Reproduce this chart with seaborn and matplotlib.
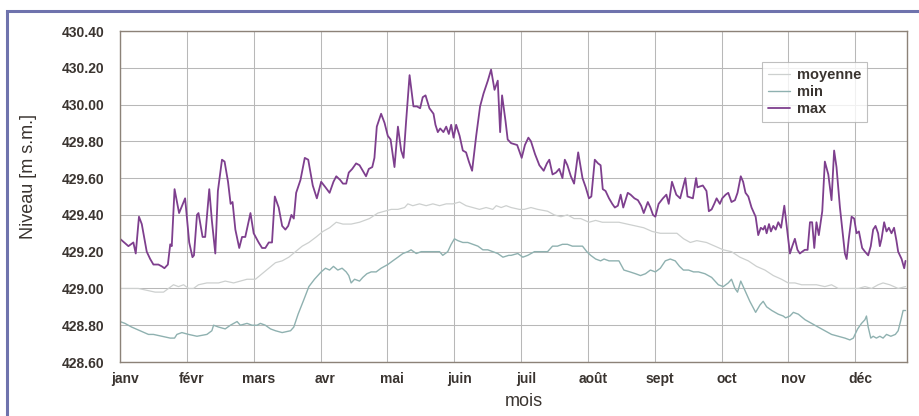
import matplotlib
matplotlib.use("Agg")
import matplotlib.pyplot as plt
import matplotlib.transforms as mtransforms
from matplotlib.lines import Line2D
import seaborn as sns

# day index within the year (0 = 1 janv) and level in m s.m.
max_days = [0, 3.9, 6.2, 7.3, 8.8, 10.1, 12.4, 14.0, 15.5, 17.8, 19.4, 20.6, 22.2, 23.3, 24.0, 25.3,
            27.4, 30.2, 32.1, 33.6, 34.3, 35.7, 36.4, 38.3, 39.5, 41.4, 42.6, 44.2, 45.4, 47.3, 48.5,
            50.1, 51.3, 52.2, 53.5, 55.3, 56.6, 58.1, 60.5, 62.0, 64.3, 65.9, 67.4, 69.0, 70.5, 71.8,
            73.6, 75.2, 76.7, 78.0, 79.5, 80.6, 81.7, 83.7, 85.7, 87.3, 89.4, 91.3, 93.3, 95.3, 97.2,
            99.0, 100.3, 102.1, 103.4, 104.9, 106.1, 107.7, 109.5, 111.1, 112.6, 114.1, 115.4, 117.0,
            118.0, 119.1, 121.1, 122.7, 124.2, 125.5, 127.3, 128.9, 130.4, 131.5, 132.7, 134.3, 136.1,
            137.7, 139.2, 140.4, 141.7, 143.5, 145.4, 146.3, 147.4, 148.5, 150.0, 151.3, 152.5, 153.6,
            154.7, 155.9, 157.5, 159.0, 160.5, 161.8, 163.3, 165.2, 167.0, 168.6, 170.6, 172.1, 173.7,
            175.2, 176.3, 177.2, 178.8, 179.8, 181.4, 184.2, 186.3, 187.8, 189.4, 190.6, 192.5, 194.5,
            196.5, 198.0, 199.1, 200.6, 202.2, 203.7, 205.2, 206.3, 207.5, 209.1, 210.6, 212.5, 214.5,
            216.0, 217.5, 218.6, 220.2, 221.7, 222.9, 223.9, 225.2, 226.8, 228.3, 229.5, 230.9, 232.2,
            233.4, 235.5, 236.8, 238.6, 240.2, 241.7, 242.9, 244.8, 246.0, 247.2, 248.3, 249.8, 251.8,
            253.4, 254.5, 256.0, 258.0, 259.8, 262.2, 263.2, 265.7, 267.2, 267.8, 270.3, 272.0, 273.1,
            274.4, 275.6, 276.7, 278.2, 279.3, 280.9, 282.1, 283.6, 285.2, 286.4, 287.9, 289.0, 290.1,
            291.4, 292.9, 294.8, 296.0, 297.2, 298.3, 299.1, 299.9, 301.0, 301.9, 303.0, 304.1, 305.3,
            306.6, 308.1, 309.2, 310.7, 311.8, 313.0, 314.2, 315.3, 316.4, 317.6, 318.9, 320.0, 321.0,
            322.0, 323.0, 324.1, 325.7, 326.9, 328.5, 330.0, 331.2, 332.3, 333.9, 335.1, 336.2, 337.0,
            338.0, 339.3, 340.5, 341.6, 342.7, 344.2, 345.5, 347.0, 348.2, 349.3, 350.4, 351.6, 352.4,
            353.2, 354.4, 355.5, 356.6, 357.8, 359.0, 360.1, 360.9, 362.5, 363.7, 364.3]
max_level = [429.27, 429.23, 429.25, 429.19, 429.39, 429.35, 429.20, 429.16, 429.13, 429.13, 429.12,
             429.11, 429.13, 429.24, 429.23, 429.54, 429.41, 429.49, 429.25, 429.17, 429.18, 429.40,
             429.41, 429.28, 429.28, 429.54, 429.37, 429.19, 429.53, 429.70, 429.69, 429.58, 429.46,
             429.47, 429.32, 429.22, 429.28, 429.28, 429.41, 429.30, 429.25, 429.22, 429.22, 429.25,
             429.25, 429.50, 429.44, 429.34, 429.32, 429.34, 429.40, 429.38, 429.52, 429.59, 429.71,
             429.70, 429.56, 429.49, 429.58, 429.55, 429.52, 429.58, 429.61, 429.59, 429.57, 429.57,
             429.63, 429.65, 429.68, 429.67, 429.64, 429.61, 429.65, 429.66, 429.71, 429.88, 429.95,
             429.90, 429.83, 429.81, 429.66, 429.88, 429.75, 429.71, 429.91, 430.16, 429.99, 429.99,
             429.98, 430.04, 430.05, 429.98, 429.95, 429.89, 429.85, 429.87, 429.85, 429.88, 429.84,
             429.89, 429.82, 429.89, 429.83, 429.75, 429.74, 429.69, 429.64, 429.83, 429.99, 430.06,
             430.13, 430.19, 430.08, 430.13, 429.85, 430.05, 429.91, 429.81, 429.79, 429.78, 429.71,
             429.78, 429.82, 429.80, 429.73, 429.67, 429.64, 429.68, 429.70, 429.62, 429.63, 429.65,
             429.60, 429.70, 429.67, 429.61, 429.57, 429.74, 429.60, 429.55, 429.49, 429.50, 429.70,
             429.68, 429.67, 429.54, 429.53, 429.49, 429.46, 429.44, 429.45, 429.51, 429.44, 429.52,
             429.51, 429.49, 429.48, 429.45, 429.41, 429.47, 429.44, 429.40, 429.39, 429.46, 429.49,
             429.51, 429.46, 429.58, 429.51, 429.49, 429.60, 429.50, 429.49, 429.60, 429.55, 429.56,
             429.53, 429.42, 429.43, 429.46, 429.49, 429.46, 429.49, 429.51, 429.52, 429.47, 429.48,
             429.52, 429.61, 429.58, 429.52, 429.50, 429.44, 429.39, 429.29, 429.33, 429.32, 429.34,
             429.30, 429.35, 429.31, 429.34, 429.32, 429.36, 429.33, 429.45, 429.34, 429.19, 429.23,
             429.27, 429.21, 429.19, 429.20, 429.21, 429.21, 429.36, 429.36, 429.22, 429.36, 429.29,
             429.42, 429.69, 429.62, 429.48, 429.75, 429.66, 429.44, 429.31, 429.19, 429.16, 429.27,
             429.39, 429.38, 429.30, 429.31, 429.22, 429.20, 429.18, 429.23, 429.32, 429.34, 429.30,
             429.23, 429.27, 429.36, 429.31, 429.33, 429.30, 429.33, 429.26, 429.20, 429.16, 429.11,
             429.15]

min_days = [0, 2.3, 5.4, 9.3, 13.2, 15.5, 19.4, 23.3, 25.3, 26.4, 28.7, 31.8, 35.7, 40.3, 42.6, 43.4,
            45.7, 48.8, 51.2, 54.3, 55.8, 58.9, 61.2, 63.6, 65.1, 67.4, 69.8, 72.1, 75.2, 79.1, 80.6,
            82.6, 85.3, 87.6, 90.2, 93.3, 95.3, 97.2, 99.0, 101.0, 103.0, 104.9, 106.1, 107.2, 108.8,
            111.1, 112.6, 114.5, 116.5, 118.8, 121.1, 124.2, 126.5, 128.9, 131.2, 133.5, 135.0, 137.4,
            139.7, 141.2, 143.5, 145.9, 148.2, 149.7, 152.0, 153.6, 155.1, 156.7, 159.0, 161.3, 163.6,
            166.0, 168.3, 170.6, 172.9, 175.2, 177.6, 180.3, 181.4, 184.5, 186.8, 189.1, 192.2, 195.2,
            198.3, 200.6, 202.9, 205.2, 207.5, 209.8, 212.2, 214.5, 216.5, 218.3, 220.6, 222.9, 224.5,
            226.8, 229.1, 231.4, 233.7, 236.5, 239.1, 241.4, 243.7, 246.0, 248.3, 250.6, 252.9, 255.2,
            257.5, 259.5, 261.3, 263.7, 266.0, 268.3, 271.3, 274.4, 277.5, 279.8, 282.1, 283.6, 285.2,
            286.4, 287.9, 289.8, 292.1, 294.8, 296.8, 298.3, 299.9, 302.3, 305.3, 307.6, 308.7, 310.7,
            312.3, 314.6, 317.7, 320.7, 323.8, 326.9, 330.0, 333.1, 336.2, 338.5, 340.1, 342.1, 343.9,
            345.5, 346.2, 347.0, 348.2, 349.3, 350.8, 352.4, 353.9, 355.5, 357.5, 359.6, 360.9, 362.2,
            363.2, 364.3]
min_level = [428.82, 428.81, 428.79, 428.77, 428.75, 428.75, 428.74, 428.73, 428.73, 428.75, 428.76,
             428.75, 428.74, 428.75, 428.77, 428.80, 428.79, 428.78, 428.80, 428.82, 428.80, 428.81,
             428.80, 428.80, 428.81, 428.80, 428.78, 428.77, 428.76, 428.77, 428.79, 428.86, 428.94,
             429.01, 429.05, 429.09, 429.11, 429.10, 429.12, 429.10, 429.11, 429.09, 429.07, 429.03,
             429.05, 429.04, 429.06, 429.08, 429.09, 429.09, 429.11, 429.13, 429.15, 429.17, 429.19,
             429.20, 429.21, 429.19, 429.20, 429.20, 429.20, 429.20, 429.20, 429.18, 429.20, 429.24,
             429.27, 429.26, 429.25, 429.25, 429.24, 429.23, 429.21, 429.21, 429.20, 429.19, 429.17,
             429.18, 429.18, 429.19, 429.17, 429.18, 429.20, 429.20, 429.20, 429.23, 429.23, 429.24,
             429.24, 429.23, 429.23, 429.23, 429.20, 429.18, 429.16, 429.15, 429.16, 429.15, 429.15,
             429.15, 429.10, 429.09, 429.08, 429.07, 429.08, 429.10, 429.09, 429.11, 429.15, 429.16,
             429.15, 429.12, 429.10, 429.10, 429.09, 429.09, 429.08, 429.06, 429.02, 429.01, 429.03,
             429.05, 429.00, 428.98, 429.04, 428.99, 428.93, 428.87, 428.91, 428.93, 428.90, 428.88,
             428.86, 428.85, 428.84, 428.85, 428.87, 428.86, 428.83, 428.81, 428.79, 428.77, 428.75,
             428.74, 428.73, 428.72, 428.73, 428.78, 428.81, 428.83, 428.85, 428.79, 428.73, 428.74,
             428.73, 428.74, 428.73, 428.75, 428.74, 428.75, 428.77, 428.83, 428.88, 428.88]

mean_days = [0, 3.9, 8.5, 12.4, 16.3, 20.2, 22.5, 24.8, 27.1, 29.5, 31.8, 34.1, 36.4, 40.3, 42.6, 45.7,
             48.8, 52.7, 55.8, 58.9, 62.8, 65.9, 69.0, 72.1, 75.2, 78.3, 81.4, 84.5, 87.6, 91.0, 94.1,
             97.2, 100.3, 103.4, 107.2, 111.1, 115.7, 119.6, 122.7, 125.8, 128.9, 132.0, 133.5, 135.8,
             138.9, 142.0, 145.1, 148.2, 151.3, 154.4, 157.5, 160.5, 163.6, 166.7, 169.8, 172.9, 174.5,
             176.8, 179.1, 181.4, 185.2, 187.5, 190.6, 193.7, 198.3, 201.4, 204.5, 207.5, 210.6, 213.7,
             217.5, 220.6, 223.7, 227.5, 231.4, 235.2, 239.1, 242.9, 246.8, 250.6, 254.5, 258.3, 261.4,
             264.5, 267.5, 272.0, 275.9, 279.8, 283.6, 287.5, 291.4, 295.2, 299.1, 303.0, 306.8, 309.9,
             313.0, 316.1, 319.2, 323.0, 326.9, 330.0, 333.1, 336.2, 339.3, 342.4, 345.5, 348.6, 351.6,
             353.9, 357.0, 360.9, 364.3]
mean_level = [429.00, 429.00, 429.00, 428.99, 428.98, 428.98, 429.00, 429.02, 429.01, 429.02, 429.00,
              429.00, 429.02, 429.03, 429.03, 429.03, 429.04, 429.03, 429.04, 429.05, 429.05, 429.08,
              429.11, 429.14, 429.15, 429.17, 429.20, 429.23, 429.25, 429.28, 429.31, 429.33, 429.36,
              429.35, 429.35, 429.36, 429.38, 429.41, 429.42, 429.43, 429.43, 429.44, 429.46, 429.45,
              429.46, 429.45, 429.46, 429.45, 429.46, 429.46, 429.47, 429.45, 429.44, 429.43, 429.44,
              429.43, 429.45, 429.44, 429.45, 429.44, 429.43, 429.43, 429.44, 429.43, 429.42, 429.40,
              429.39, 429.40, 429.38, 429.38, 429.36, 429.37, 429.36, 429.36, 429.36, 429.35, 429.34,
              429.33, 429.31, 429.30, 429.30, 429.30, 429.27, 429.25, 429.26, 429.25, 429.23, 429.21,
              429.20, 429.17, 429.15, 429.12, 429.10, 429.07, 429.05, 429.03, 429.03, 429.02, 429.02,
              429.02, 429.01, 429.02, 429.00, 429.00, 429.00, 429.00, 429.01, 429.00, 429.02, 429.03,
              429.02, 429.00, 429.01]

month_ticks = [0, 31, 62, 93, 124, 155, 186, 217, 248, 279, 310, 341]
month_labels = ["janv", "févr", "mars", "avr", "mai", "juin", "juil", "août", "sept", "oct", "nov", "déc"]
y_ticks = [428.6, 428.8, 429.0, 429.2, 429.4, 429.6, 429.8, 430.0, 430.2, 430.4]

sns.set_theme(style="whitegrid")
plt.rcParams["font.family"] = ["Liberation Sans", "DejaVu Sans"]

text_col = "#3a3430"

fig = plt.figure(figsize=(9.2, 4.16), dpi=100)
ax = fig.add_axes([120 / 920, 1 - 362 / 416, 787 / 920, 331 / 416])

# outer frame of the page: only its left and top edges are in the picture
frame_x = 7 / 920
frame_y = 1 - 11 / 416
fig.add_artist(Line2D([frame_x, frame_x], [0, frame_y], transform=fig.transFigure,
                      color="#6f73ad", linewidth=2.2, solid_capstyle="butt"))
fig.add_artist(Line2D([frame_x, 1], [frame_y, frame_y], transform=fig.transFigure,
                      color="#6f73ad", linewidth=2.2, solid_capstyle="projecting"))

sns.lineplot(x=mean_days, y=mean_level, ax=ax, color="#cdd0cf", linewidth=0.9, label="moyenne")
sns.lineplot(x=min_days, y=min_level, ax=ax, color="#8fb1b0", linewidth=1.0, label="min")
sns.lineplot(x=max_days, y=max_level, ax=ax, color="#7e3f8e", linewidth=1.3, label="max")

ax.set_xlim(0, 365)
ax.set_ylim(428.6, 430.4)
ax.set_xticks(month_ticks)
ax.set_xticklabels(month_labels)
ax.set_yticks(y_ticks)
ax.set_yticklabels([f"{v:.2f}" for v in y_ticks])

ax.set_facecolor("white")
ax.grid(True, color="#b8b8b8", linewidth=0.75)
for s in ax.spines.values():
    s.set_color("#8c8278")
    s.set_linewidth(1.0)

ax.tick_params(axis="both", which="both", length=3, color="#9a9a9a",
               labelcolor=text_col, labelsize=10)
for lab in ax.get_yticklabels() + ax.get_xticklabels():
    lab.set_fontweight("bold")
ax.tick_params(axis="y", pad=8)
ax.tick_params(axis="x", pad=4)

# month labels sit slightly right of their tick
offset = mtransforms.ScaledTranslation(5 / 100, 0, fig.dpi_scale_trans)
for lab in ax.get_xticklabels():
    lab.set_transform(lab.get_transform() + offset)

ax.set_xlabel("mois", fontsize=13, color=text_col, labelpad=1)
ax.xaxis.set_label_coords((524 - 120) / 787, -0.095)
ax.set_ylabel("Niveau [m s.m.]", fontsize=13, color=text_col)
ax.yaxis.set_label_coords((37 - 120) / 787, 0.56)

leg = ax.legend(loc="upper left", bbox_to_anchor=((762 - 120) / 787, (362 - 62) / 331),
                frameon=True, fancybox=False, fontsize=10.5, handlelength=1.5,
                handletextpad=0.5, borderpad=0.4, labelspacing=0.2, borderaxespad=0)
leg.get_frame().set_edgecolor("#b0b0b0")
leg.get_frame().set_linewidth(0.8)
for t in leg.get_texts():
    t.set_color(text_col)
    t.set_fontweight("bold")

fig.savefig("out.png", dpi=100, facecolor="white")
